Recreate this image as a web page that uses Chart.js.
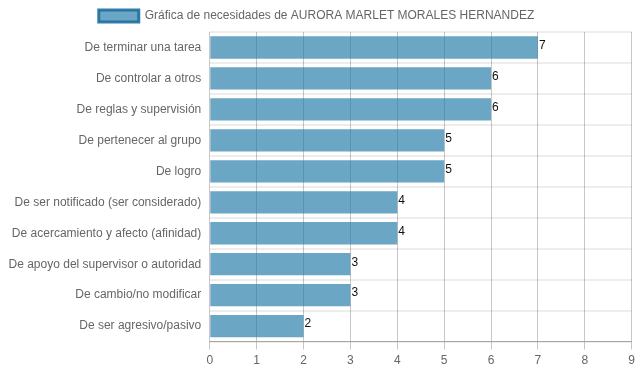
<!DOCTYPE html>
<html>
<head>
<meta charset="utf-8">
<script src="https://cdn.jsdelivr.net/npm/chart.js@4/dist/chart.umd.min.js"></script>
<style>
  html, body { margin: 0; padding: 0; background: #fff; }
  #wrap { width: 639px; height: 372px; }
</style>
</head>
<body>
<div id="wrap"><canvas id="needsChart" width="639" height="372"></canvas></div>
<script>
const categories = [
    'De terminar una tarea',
    'De controlar a otros',
    'De reglas y supervisión',
    'De pertenecer al grupo',
    'De logro',
    'De ser notificado (ser considerado)',
    'De acercamiento y afecto (afinidad)',
    'De apoyo del supervisor o autoridad',
    'De cambio/no modificar',
    'De ser agresivo/pasivo'
];
const needValues = [7, 6, 6, 5, 5, 4, 4, 3, 3, 2];
const seriesLabel = 'Gráfica de necesidades de AURORA MARLET MORALES HERNANDEZ';

const BAR_FILL = 'rgba(27,118,164,0.65)';
const BAR_BORDER = 'rgba(30,110,160,0.9)';

// Writes each value just to the right of its bar
const valueLabels = {
    id: 'valueLabels',
    afterDatasetsDraw(chart) {
        const ctx = chart.ctx;
        const meta = chart.getDatasetMeta(0);
        ctx.save();
        ctx.font = '12px "Liberation Sans", Arial, sans-serif';
        ctx.fillStyle = '#111';
        ctx.textAlign = 'left';
        ctx.textBaseline = 'middle';
        meta.data.forEach((bar, i) => {
            ctx.fillText(String(chart.data.datasets[0].data[i]), bar.x + 1, bar.y - 2);
        });
        ctx.restore();
    }
};

Chart.defaults.font.family = '"Liberation Sans", Arial, sans-serif';
Chart.defaults.font.size = 12;
Chart.defaults.color = '#666';

new Chart(document.getElementById('needsChart').getContext('2d'), {
    type: 'bar',
    data: {
        labels: categories,
        datasets: [{
            label: seriesLabel,
            data: needValues,
            backgroundColor: BAR_FILL,
            borderColor: BAR_BORDER,
            borderWidth: 0
        }]
    },
    options: {
        indexAxis: 'y',
        responsive: false,
        animation: false,
        layout: { padding: { right: 6, left: 0, top: 0, bottom: 0 } },
        plugins: {
            tooltip: { enabled: false },
            legend: {
                position: 'top',
                labels: {
                    boxWidth: 40,
                    boxHeight: 12,
                    padding: 10,
                    generateLabels: chart => [{
                        text: seriesLabel,
                        fillStyle: BAR_FILL,
                        strokeStyle: BAR_BORDER,
                        lineWidth: 3,
                        fontColor: '#666',
                        datasetIndex: 0
                    }]
                }
            }
        },
        scales: {
            x: {
                min: 0,
                max: 9,
                ticks: { stepSize: 1, padding: 4 },
                grid: { color: 'rgba(0,0,0,0.22)', tickLength: 8 },
                border: { color: 'rgba(0,0,0,0.3)' }
            },
            y: {
                ticks: { padding: 8.5 },
                grid: { color: 'rgba(0,0,0,0.07)', tickLength: 0, lineWidth: 2 },
                border: { display: false }
            }
        }
    },
    plugins: [valueLabels]
});
</script>
</body>
</html>
